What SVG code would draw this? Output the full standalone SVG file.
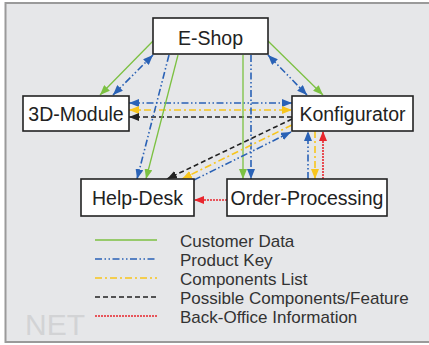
<svg xmlns="http://www.w3.org/2000/svg" width="429" height="345" viewBox="0 0 429 345">
<style>
.node rect{fill:#fff;stroke:#222;stroke-width:1.6}
.node text{font-family:"Liberation Sans",Arial,sans-serif;font-size:19.5px;fill:#222;text-anchor:middle}
.leg{font-family:"Liberation Sans",Arial,sans-serif;font-size:17px;fill:#333}
.g{stroke:#7cc142;stroke-width:1.3;fill:none}
.b{stroke:#2a62b6;stroke-width:1.6;fill:none;stroke-dasharray:7 2.5 1.5 2.5 1.5 2.5}
.y{stroke:#f8c51c;stroke-width:1.6;fill:none;stroke-dasharray:7 3 2 3}
.k{stroke:#222;stroke-width:1.6;fill:none;stroke-dasharray:5 3}
.r{stroke:#e8262d;stroke-width:1.6;fill:none;stroke-dasharray:2 1}
</style>
<defs>
<marker id="ag" viewBox="0 0 10 8" refX="10" refY="4" markerWidth="10" markerHeight="8" markerUnits="userSpaceOnUse" orient="auto-start-reverse"><path d="M0,0L10,4L0,8z" fill="#7cc142"/></marker>
<marker id="ab" viewBox="0 0 10 8" refX="10" refY="4" markerWidth="10" markerHeight="8" markerUnits="userSpaceOnUse" orient="auto-start-reverse"><path d="M0,0L10,4L0,8z" fill="#2a62b6"/></marker>
<marker id="ay" viewBox="0 0 10 8" refX="10" refY="4" markerWidth="10" markerHeight="8" markerUnits="userSpaceOnUse" orient="auto-start-reverse"><path d="M0,0L10,4L0,8z" fill="#f8c51c"/></marker>
<marker id="ak" viewBox="0 0 10 8" refX="10" refY="4" markerWidth="10" markerHeight="8" markerUnits="userSpaceOnUse" orient="auto-start-reverse"><path d="M0,0L10,4L0,8z" fill="#222"/></marker>
<marker id="ar" viewBox="0 0 10 8" refX="10" refY="4" markerWidth="10" markerHeight="8" markerUnits="userSpaceOnUse" orient="auto-start-reverse"><path d="M0,0L10,4L0,8z" fill="#e8262d"/></marker>
</defs>
<rect x="5.5" y="3" width="430" height="339" fill="#e6e7e9" stroke="#9a9a9a" stroke-width="2"/>
<text x="25" y="335" font-family="Liberation Sans,Arial,sans-serif" font-size="30" fill="#d2d3d5">NET</text>
<g id="connectors">
<line class="g" x1="153" y1="41" x2="100" y2="95" marker-end="url(#ag)"/>
<line class="b" x1="113" y1="95" x2="153" y2="55" marker-start="url(#ab)" marker-end="url(#ab)"/>
<line class="g" x1="268" y1="41" x2="323" y2="95" marker-end="url(#ag)"/>
<line class="b" x1="268" y1="55" x2="307" y2="95" marker-start="url(#ab)" marker-end="url(#ab)"/>
<line class="b" x1="129" y1="103" x2="292" y2="103" marker-start="url(#ab)" marker-end="url(#ab)"/>
<line class="y" x1="129" y1="110" x2="292" y2="110" marker-start="url(#ay)" marker-end="url(#ay)"/>
<line class="k" x1="292" y1="117" x2="129" y2="117" marker-end="url(#ak)"/>
<line class="g" x1="178" y1="55" x2="146" y2="179" marker-end="url(#ag)"/>
<line class="b" x1="169" y1="55" x2="137" y2="179" marker-end="url(#ab)"/>
<line class="g" x1="243" y1="55" x2="243" y2="179" marker-end="url(#ag)"/>
<line class="b" x1="251" y1="55" x2="251" y2="179" marker-end="url(#ab)"/>
<line class="k" x1="292" y1="119" x2="167" y2="179" marker-end="url(#ak)"/>
<line class="y" x1="292" y1="125" x2="182" y2="179" marker-end="url(#ay)"/>
<line class="b" x1="194" y1="180" x2="291" y2="132" marker-end="url(#ab)"/>
<line class="b" x1="308" y1="179" x2="308" y2="131" marker-end="url(#ab)"/>
<line class="y" x1="315" y1="131" x2="315" y2="179" marker-end="url(#ay)"/>
<line class="r" x1="323" y1="179" x2="323" y2="131" marker-end="url(#ar)"/>
<line class="r" x1="227" y1="200" x2="194" y2="200" marker-end="url(#ar)"/>
</g>
<g id="eshop" class="node"><rect x="153" y="18" width="115" height="36"/><text x="210.5" y="45">E-Shop</text></g>
<g id="module3d" class="node"><rect x="23" y="96" width="106" height="35"/><text x="76" y="121">3D-Module</text></g>
<g id="konfigurator" class="node"><rect x="292" y="96" width="121" height="35"/><text x="352.5" y="121">Konfigurator</text></g>
<g id="helpdesk" class="node"><rect x="81" y="179" width="113" height="37"/><text x="137.5" y="205">Help-Desk</text></g>
<g id="orderprocessing" class="node"><rect x="227" y="179" width="160" height="37"/><text x="307" y="205">Order-Processing</text></g>
<g id="legend">
<line class="g" x1="95" y1="240" x2="157" y2="240"/>
<line class="b" x1="95" y1="259" x2="157" y2="259"/>
<line class="y" x1="95" y1="278" x2="157" y2="278"/>
<line class="k" x1="95" y1="297" x2="157" y2="297"/>
<line class="r" x1="95" y1="316" x2="157" y2="316"/>
<text class="leg" x="180" y="247">Customer Data</text>
<text class="leg" x="180" y="266">Product Key</text>
<text class="leg" x="180" y="285">Components List</text>
<text class="leg" x="180" y="304">Possible Components/Feature</text>
<text class="leg" x="180" y="323">Back-Office Information</text>
</g>
</svg>
